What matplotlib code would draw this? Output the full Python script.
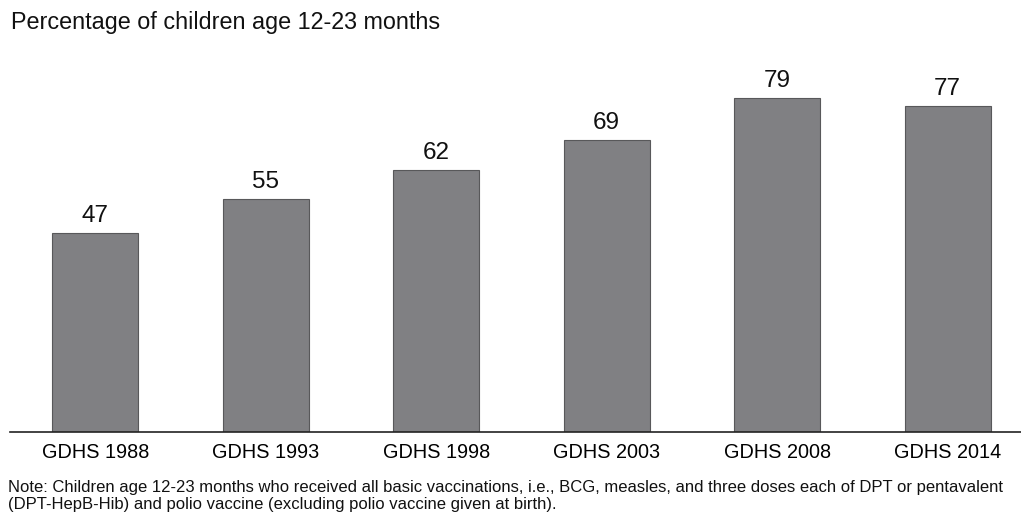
import matplotlib
matplotlib.use('Agg')
import matplotlib.pyplot as plt

plt.rcParams['font.family'] = ['Liberation Sans', 'DejaVu Sans']

surveys = ['GDHS 1988', 'GDHS 1993', 'GDHS 1998', 'GDHS 2003', 'GDHS 2008', 'GDHS 2014']
percent = [47, 55, 62, 69, 79, 77]

title = 'Percentage of children age 12-23 months'
note = ('Note: Children age 12-23 months who received all basic vaccinations, i.e., BCG, measles, '
        'and three doses each of DPT or pentavalent\n'
        '(DPT-HepB-Hib) and polio vaccine (excluding polio vaccine given at birth).')

fig = plt.figure(figsize=(10.21, 5.15), dpi=100)
ax = fig.add_axes([10 / 1021, 83 / 515, 1011 / 1021, 381 / 515])

x = range(len(surveys))
ax.bar(x, percent, width=0.505, color='#808083', edgecolor='#58585a', linewidth=0.8)
for i, v in zip(x, percent):
    ax.text(i, v + 2.6, str(v), ha='center', va='baseline', fontsize=17.5, color='#111111')

ax.set_xlim(-0.5, 5.43)
ax.set_ylim(0, 90)
ax.set_xticks(list(x))
ax.set_xticklabels(surveys, fontsize=14.3)
ax.tick_params(axis='x', length=0, pad=8)
ax.set_yticks([])
for side in ['left', 'right', 'top']:
    ax.spines[side].set_visible(False)
ax.spines['bottom'].set_color('#222222')
ax.spines['bottom'].set_linewidth(1.2)

fig.text(11 / 1021, 1 - 23 / 515, title, ha='left', va='center', fontsize=16.8, color='#111111')
fig.text(8 / 1021, 1 - 496 / 515, note, ha='left', va='center', fontsize=12,
         color='#111111', linespacing=1.15)

fig.savefig('out.png', dpi=100)
